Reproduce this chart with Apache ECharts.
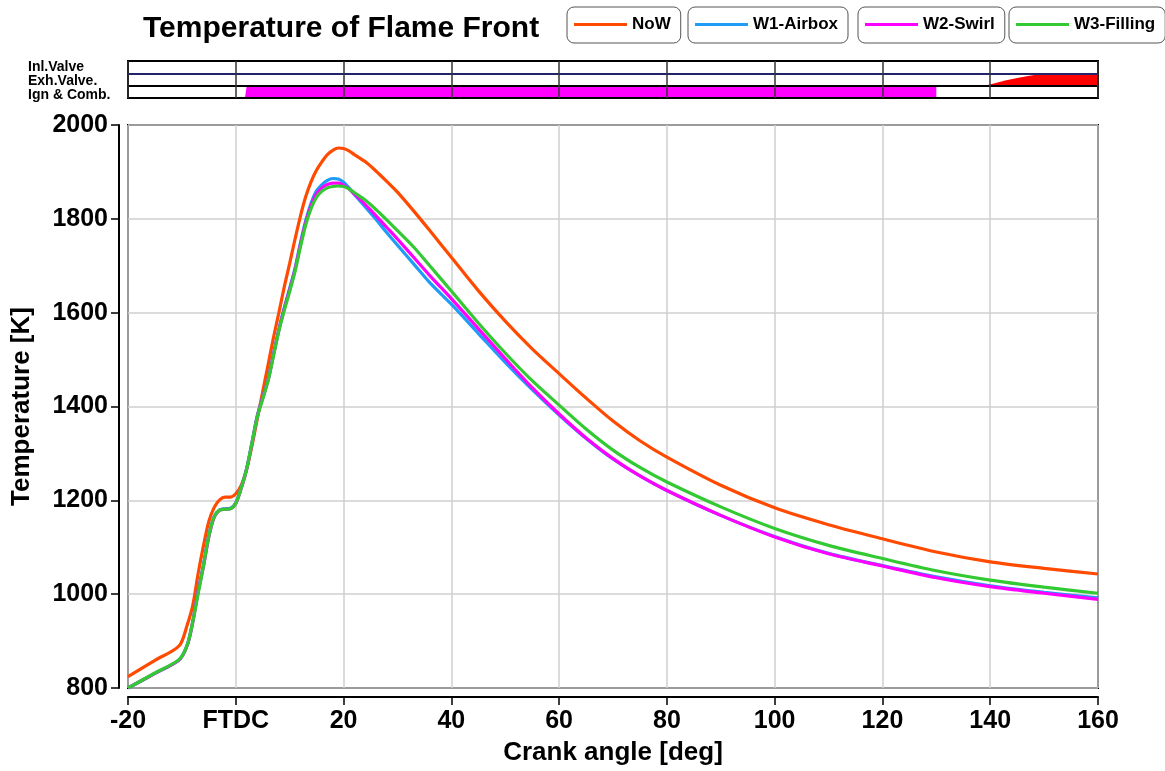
<!DOCTYPE html>
<html>
<head>
<meta charset="utf-8">
<script src="https://cdn.jsdelivr.net/npm/echarts@6/dist/echarts.min.js"></script>
<style>html,body{margin:0;padding:0;background:#fff}#c{width:1165px;height:771px}</style>
</head>
<body>
<div id="c"></div>
<script>
// ---------- data ----------
const angle = [-20,-15,-10.5,-9,-8,-7,-6,-5,-4,-3,-2,-1,0,1,2,3,4,5,6,7,8,9,10,11,12,13,14,15,16,17,18,19,20,21,22,24,26,28,30,33,36,40,45,50,55,60,65,70,75,80,90,100,110,120,130,140,150,160];
const tNoW = [824,859,890,935,975,1043,1103,1155,1185,1201,1207,1207,1214,1232,1266,1316,1374,1432,1489,1547,1600,1655,1705,1757,1806,1848,1880,1904,1922,1937,1946,1951,1950,1945,1937,1922,1902,1880,1857,1817,1775,1718,1647,1582,1523,1470,1418,1369,1327,1292,1232,1184,1148,1118,1090,1069,1055,1043];
const tW1 = [800,831,860,892,941,1006,1063,1126,1166,1180,1182,1183,1195,1227,1267,1323,1381,1420,1458,1512,1565,1611,1652,1695,1749,1797,1834,1860,1873,1882,1886,1885,1878,1866,1852,1826,1799,1771,1744,1704,1664,1618,1556,1494,1436,1382,1332,1288,1252,1221,1168,1123,1087,1061,1037,1018,1004,992];
const tW2 = [800,831,860,891,939,1004,1059,1122,1164,1179,1181,1182,1193,1225,1265,1321,1379,1418,1456,1510,1563,1608,1649,1692,1745,1793,1829,1854,1866,1873,1876,1876,1872,1864,1853,1831,1807,1782,1757,1718,1679,1630,1566,1502,1440,1384,1333,1289,1252,1221,1168,1122,1086,1060,1035,1016,1002,989];
const tW3 = [800,832,861,892,940,1000,1060,1124,1165,1179,1181,1182,1194,1226,1266,1322,1378,1416,1455,1508,1561,1605,1645,1688,1740,1788,1823,1846,1859,1866,1869,1870,1869,1864,1856,1840,1820,1798,1775,1740,1700,1646,1578,1514,1455,1403,1352,1307,1270,1239,1186,1140,1104,1076,1050,1030,1015,1002];
const seriesNames = ['NoW','W1-Airbox','W2-Swirl','W3-Filling'];
const seriesColors = ['#ff4a00','#1e9cf6','#ff00ff','#33c933'];
const seriesValues = [tNoW, tW1, tW2, tW3];

const yTicks = {min: 800, max: 2000, step: 200};
const xTicks = {min: -20, max: 160, step: 20};
const zeroLabel = 'FTDC';

const stripRows = ['Ign & Comb.', 'Exh.Valve.', 'Inl.Valve'];
// ignition & combustion band (row 0)
const ignAngle = [1.7, 2.0, 130, 130];
const ignLevel = [0, 0.9, 0.9, 0];
// exhaust valve lift (row 1)
const exhAngle = [139, 141, 143, 145, 147, 148.5, 160];
const exhLift  = [0, 0.22, 0.43, 0.62, 0.78, 0.88, 0.88];
const exhRow = 1;

// ---------- layout ----------
const FONT = 'Liberation Sans, Arial, Helvetica, sans-serif';
const legendLeft = [567, 688, 858, 1009];

const chart = echarts.init(document.getElementById('c'), null, {renderer: 'canvas'});

const legends = seriesNames.map((n, i) => ({
  data: [n],
  left: legendLeft[i],
  top: 7,
  orient: 'horizontal',
  selectedMode: false,
  icon: 'rect',
  itemWidth: 53,
  itemHeight: 3,
  padding: [9, 10, 10, 7],
  borderColor: '#555',
  borderWidth: 1,
  borderRadius: 7,
  textStyle: {fontFamily: FONT, fontSize: 17, fontWeight: 'bold', color: '#000'}
}));

const mainSeries = seriesNames.map((n, i) => ({
  name: n,
  type: 'line',
  xAxisIndex: 0,
  yAxisIndex: 0,
  data: angle.map((a, k) => [a, seriesValues[i][k]]),
  showSymbol: false,
  symbol: 'none',
  smooth: 0.3,
  lineStyle: {width: 3.2, color: seriesColors[i]},
  itemStyle: {color: seriesColors[i]},
  z: 3
}));

const labelStyle = {fontFamily: FONT, fontSize: 14, fontWeight: 'bold', color: '#000'};

const option = {
  animation: false,
  backgroundColor: '#fff',
  title: {
    text: 'Temperature of Flame Front',
    left: 138, top: 9,
    textStyle: {fontFamily: FONT, fontSize: 30, fontWeight: 'bold', color: '#000'}
  },
  legend: legends,
  grid: [
    {left: 128, right: 67, top: 125, bottom: 83, show: true, borderColor: '#000', borderWidth: 2, containLabel: false, outerBoundsMode: 'none'},
    {left: 128, right: 67, top: 61, height: 37, show: true, borderColor: '#000', borderWidth: 2, containLabel: false, outerBoundsMode: 'none'}
  ],
  xAxis: [
    {
      gridIndex: 0, type: 'value', position: 'bottom', min: xTicks.min, max: xTicks.max, interval: xTicks.step,
      offset: 9,
      axisLine: {show: true, onZero: false, lineStyle: {color: '#000', width: 2}},
      axisTick: {show: true, length: 8, lineStyle: {color: '#000', width: 1.5}},
      axisLabel: {
        fontFamily: FONT, fontSize: 25, fontWeight: 'bold', color: '#000', margin: 12,
        formatter: v => (v === 0 ? zeroLabel : String(v))
      },
      splitLine: {show: true, lineStyle: {color: '#cfcfcf', width: 1.5}},
      name: 'Crank angle [deg]', nameLocation: 'middle', nameGap: 43,
      nameTextStyle: {fontFamily: FONT, fontSize: 26, fontWeight: 'bold', color: '#000'}
    },
    {
      gridIndex: 1, type: 'value', position: 'bottom', min: xTicks.min, max: xTicks.max, interval: xTicks.step,
      axisLine: {show: false, onZero: false}, axisTick: {show: false}, axisLabel: {show: false},
      splitLine: {show: true, lineStyle: {color: '#333', width: 1.5}}
    }
  ],
  yAxis: [
    {
      gridIndex: 0, type: 'value', position: 'left', min: yTicks.min, max: yTicks.max, interval: yTicks.step,
      offset: 9,
      axisLine: {show: true, onZero: false, lineStyle: {color: '#000', width: 2}},
      axisTick: {show: true, length: 8, lineStyle: {color: '#000', width: 1.5}},
      axisLabel: {fontFamily: FONT, fontSize: 25, fontWeight: 'bold', color: '#000', margin: 11, formatter: v => String(v)},
      splitLine: {show: true, lineStyle: {color: '#cfcfcf', width: 1.5}},
      name: 'Temperature [K]', nameLocation: 'middle', nameGap: 84, nameRotate: 90,
      nameTextStyle: {fontFamily: FONT, fontSize: 26, fontWeight: 'bold', color: '#000'}
    },
    {
      gridIndex: 1, type: 'value', position: 'left', min: 0, max: 3, interval: 1,
      axisLine: {show: false, onZero: false}, axisTick: {show: false}, axisLabel: {show: false},
      splitLine: {show: true, lineStyle: {color: ['#000', '#000', '#22236b', '#000'], width: 2}}
    },
    {
      gridIndex: 1, type: 'category', position: 'left', data: stripRows,
      axisLine: {show: false, onZero: false}, axisTick: {show: false}, splitLine: {show: false},
      axisLabel: {
        interval: 0, align: 'left', margin: 100,
        formatter: (v, i) => '{r' + i + '|' + v + '}',
        rich: {
          r0: Object.assign({padding: [7, 0, 0, 0]}, labelStyle),
          r1: Object.assign({padding: [3, 0, 0, 0]}, labelStyle),
          r2: Object.assign({padding: [0, 0, 0, 0]}, labelStyle)
        }
      }
    }
  ],
  series: [
    {
      type: 'line', xAxisIndex: 1, yAxisIndex: 1,
      data: ignAngle.map((a, k) => [a, ignLevel[k]]),
      showSymbol: false, symbol: 'none', silent: true,
      lineStyle: {width: 0, opacity: 0},
      areaStyle: {color: '#ff00ff', opacity: 1, origin: 'start'},
      z: -1
    },
    {
      type: 'custom', xAxisIndex: 1, yAxisIndex: 1, silent: true, z: -1,
      data: exhAngle.map((a, k) => [a, exhRow + exhLift[k]]),
      renderItem: (params, api) => {
        if (params.dataIndex !== 0) return null;
        const top = exhAngle.map((a, k) => api.coord([a, exhRow + exhLift[k]]));
        const bottom = exhAngle.slice().reverse().map(a => api.coord([a, exhRow]));
        return {type: 'polygon', shape: {points: top.concat(bottom)}, style: {fill: '#ff0000'}};
      }
    },
    ...mainSeries
  ]
};
chart.setOption(option);
</script>
</body>
</html>
